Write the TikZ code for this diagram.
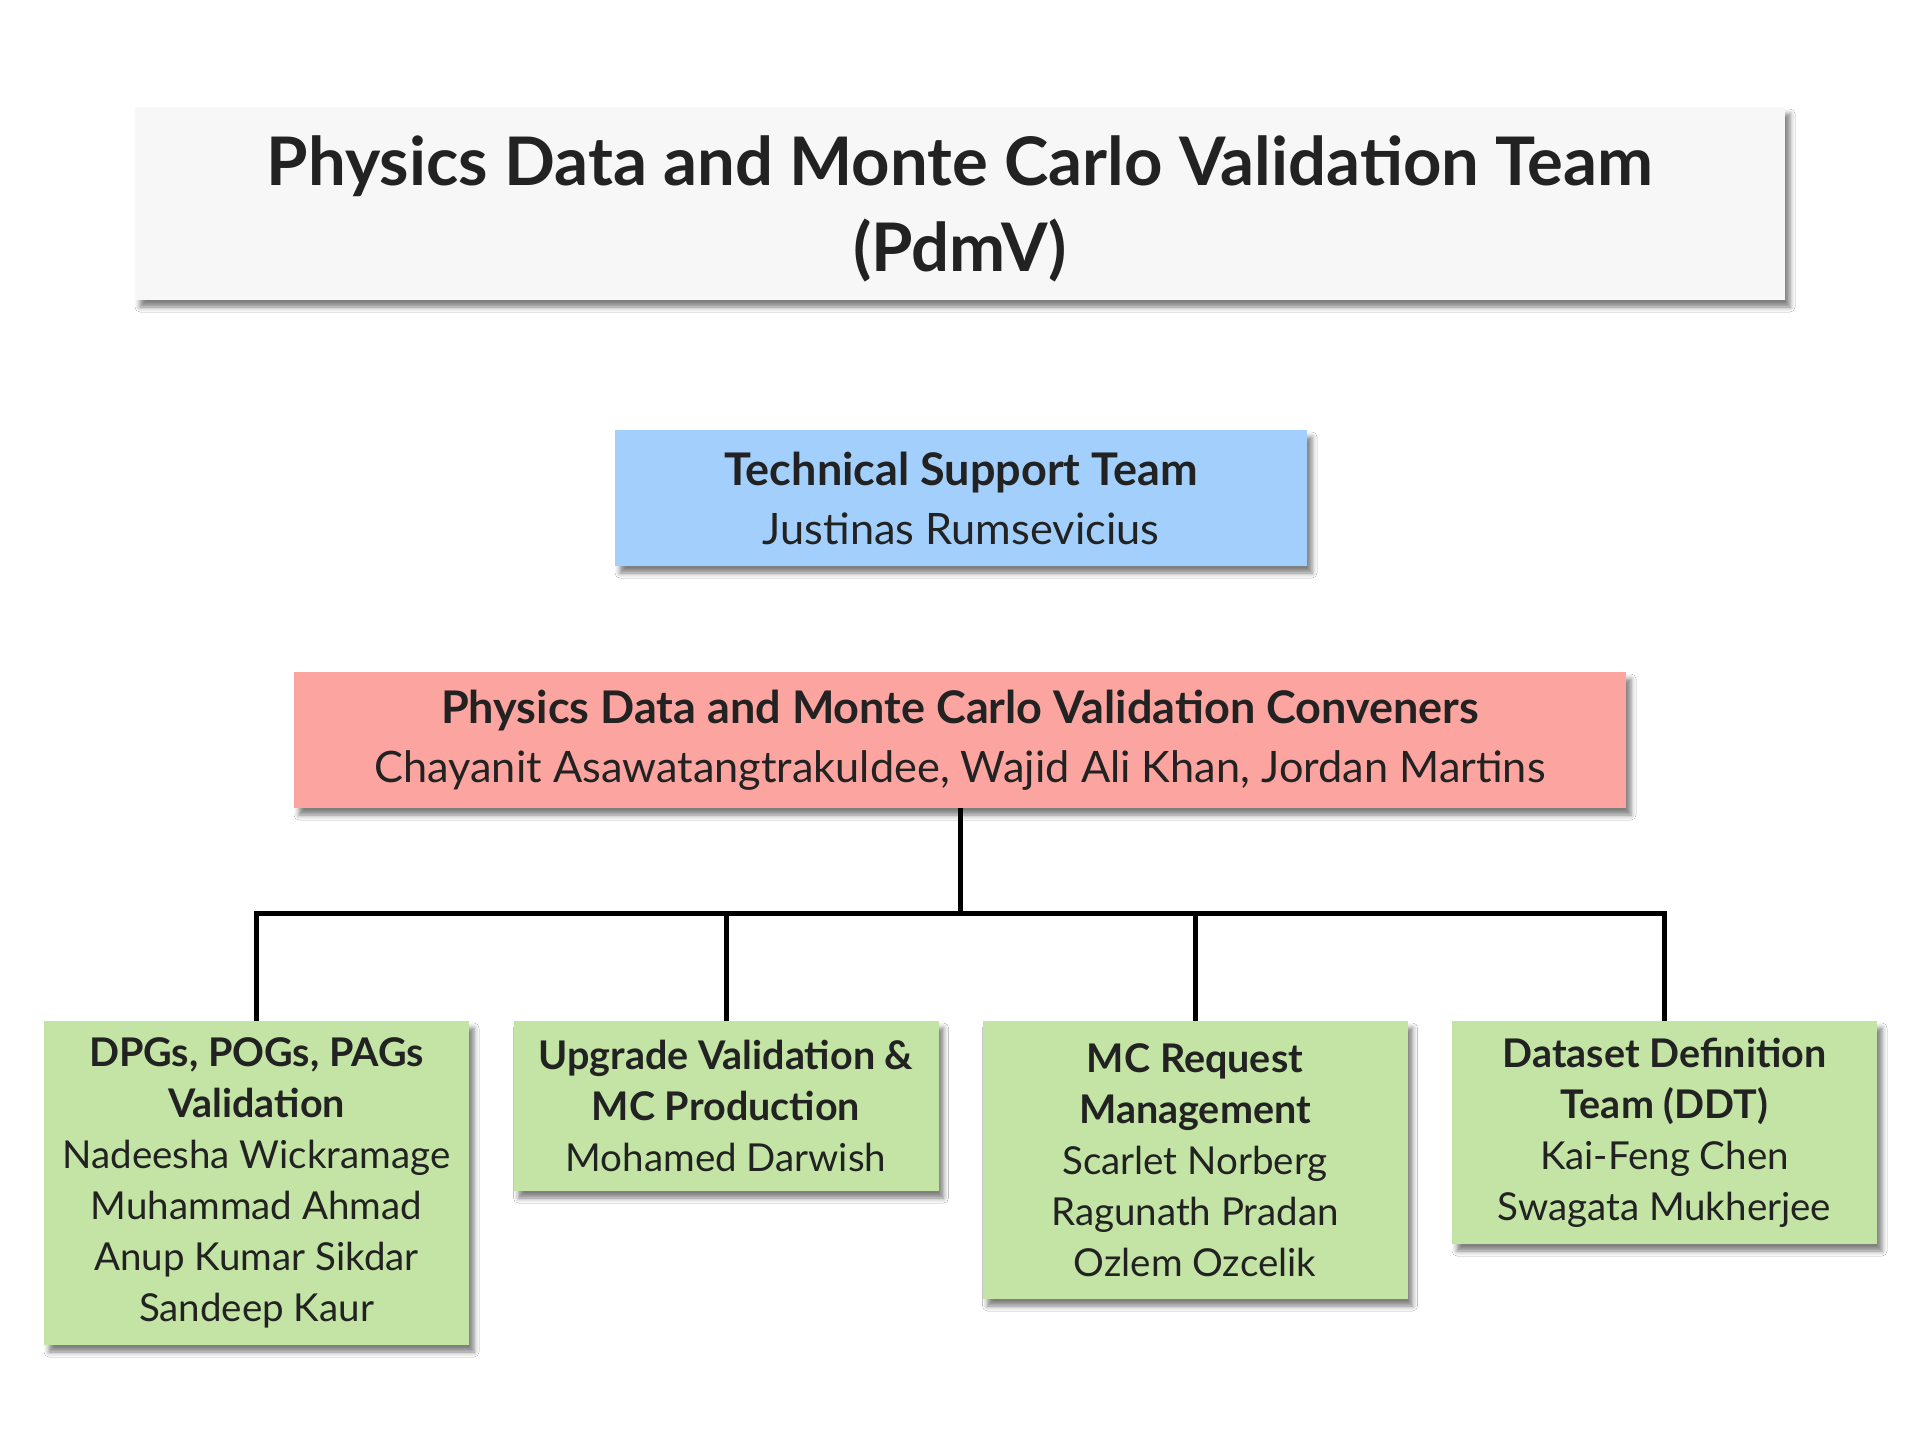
\documentclass[tikz,border=0pt]{standalone}
\usepackage{fontspec}
\setmainfont{Lato}
\usetikzlibrary{shadows.blur}

\definecolor{ink}{HTML}{222222}
\definecolor{titlefill}{HTML}{F7F7F7}
\definecolor{techfill}{HTML}{A3CFFD}
\definecolor{convfill}{HTML}{FCA49F}
\definecolor{groupfill}{HTML}{C3E4A4}

% bold heading lines inside the cards
\newcommand\midhead[1]{{\fontsize{45}{59}\selectfont\bfseries #1}}
\newcommand\grphead[1]{{\fontsize{39.5}{51}\selectfont\bfseries #1}}

\tikzset{
  card/.style={draw=none, align=center, text=ink, inner sep=0pt,
    blur shadow={shadow xshift=5pt, shadow yshift=-7pt,
                 shadow blur radius=5pt, shadow opacity=50}},
  titlecard/.style={card, fill=titlefill, minimum width=1650pt, minimum height=193pt,
    text depth=0pt, font=\fontsize{67}{86}\selectfont\bfseries},
  techcard/.style={card, fill=techfill, minimum width=692pt, minimum height=136pt,
    font=\fontsize{43.3}{59}\selectfont},
  convcard/.style={card, fill=convfill, minimum width=1332pt, minimum height=136pt,
    font=\fontsize{43.3}{59}\selectfont},
  groupcard/.style={card, fill=groupfill, minimum width=425pt,
    font=\fontsize{38.5}{51}\selectfont},
  conn/.style={draw=black, line width=5pt, line join=miter}
}

\begin{document}
\begin{tikzpicture}[x=1pt, y=-1pt]
  \fill[white] (0,0) rectangle (1920,1440);
  \useasboundingbox (0,0) rectangle (1920,1440);

  % heading
  \node[titlecard] (title) at (960,203.5)
    {Physics Data and Monte Carlo Validation Team\\(PdmV)};

  % support and conveners
  \node[techcard] (tech) at (961,498)
    {\midhead{Technical Support Team}\\Justinas Rumsevicius};
  \node[convcard] (conv) at (960,740)
    {\midhead{Physics Data and Monte Carlo Validation Conveners}\\
     Chayanit Asawatangtrakuldee, Wajid Ali Khan, Jordan Martins};

  % working groups
  \node[groupcard, minimum height=324pt] (g1) at (256.5,1183)
    {\grphead{DPGs, POGs, PAGs}\\\grphead{Validation}\\Nadeesha Wickramage\\
     Muhammad Ahmad\\Anup Kumar Sikdar\\Sandeep Kaur};
  \node[groupcard, minimum height=170pt] (g2) at (726,1106)
    {\grphead{Upgrade Validation \&}\\\grphead{MC Production}\\Mohamed Darwish};
  \node[groupcard, minimum height=278pt] (g3) at (1195,1160)
    {\grphead{MC Request}\\\grphead{Management}\\Scarlet Norberg\\
     Ragunath Pradan\\Ozlem Ozcelik};
  \node[groupcard, minimum height=223pt] (g4) at (1664.5,1132.5)
    {\grphead{Dataset Definition}\\\grphead{Team (DDT)}\\Kai-Feng Chen\\
     Swagata Mukherjee};

  % tree connectors
  \coordinate (bus) at (960,913);
  \draw[conn] (conv.south) -- (bus);
  \draw[conn] (g1.north) -- (g1.north |- bus) -- (g4.north |- bus) -- (g4.north);
  \draw[conn] (g2.north) -- (g2.north |- bus);
  \draw[conn] (g3.north) -- (g3.north |- bus);
\end{tikzpicture}
\end{document}
